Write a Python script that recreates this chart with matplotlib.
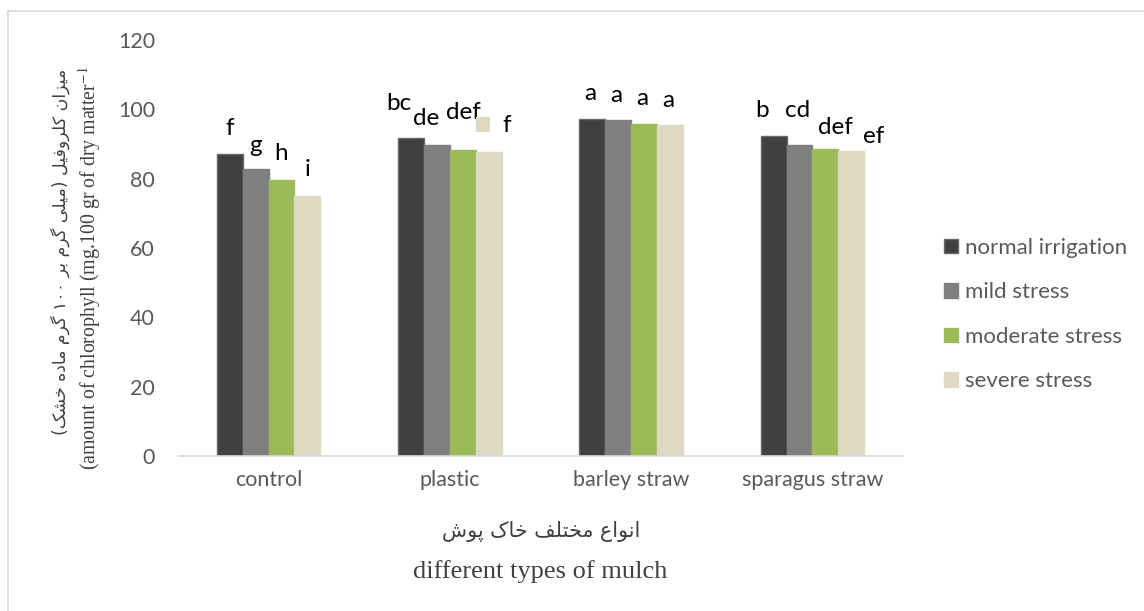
import matplotlib
matplotlib.use("Agg")
import matplotlib.pyplot as plt
from matplotlib.patches import Rectangle
import numpy as np

plt.rcParams["mathtext.fontset"] = "stix"

# ---------------- data ----------------
categories = ["control", "plastic", "barley straw", "sparagus straw"]
series_names = ["normal irrigation", "mild stress", "moderate stress", "severe stress"]
normal_irrigation = [87.0, 91.7, 97.3, 92.4]
mild_stress = [82.8, 89.7, 96.8, 89.8]
moderate_stress = [79.6, 88.3, 95.9, 88.5]
severe_stress = [75.0, 87.7, 95.6, 88.0]
letters_normal = ["f", "bc", "a", "b"]
letters_mild = ["g", "de", "a", "cd"]
letters_moderate = ["h", "def", "a", "def"]
letters_severe = ["i", "f", "a", "ef"]
yticks = [0, 20, 40, 60, 80, 100, 120]

# ---------------- styling ----------------
colors = ["#404040", "#7f7f7f", "#9bbb59", "#ddd9c3"]
edgecolors = ["#6a6a6a", "#7f7f7f", "#9bbb59", "#ddd9c3"]
# label offsets in pixels (dx from bar centre, dy from bar top to baseline)
off_normal = [(0, 19), (-12, 28), (-2, 19), (-12, 19)]
off_mild = [(0, 17), (-11, 20), (-2, 18), (-2, 28)]
off_moderate = [(0, 20), (1, 31), (-2, 19), (10, 15)]
off_severe = [(0, 20), (18, 20), (-2, 18), (23, 8)]

tick_font = "Lato"
tick_color = "#595959"


# ---------- minimal Persian shaping (presentation forms + visual order) ----------
FORMS = {
    'ا': ('\uFE8D', '\uFE8E', None, None),
    'ن': ('\uFEE5', '\uFEE6', '\uFEE7', '\uFEE8'),
    'و': ('\uFEED', '\uFEEE', None, None),
    'ع': ('\uFEC9', '\uFECA', '\uFECB', '\uFECC'),
    'م': ('\uFEE1', '\uFEE2', '\uFEE3', '\uFEE4'),
    'خ': ('\uFEA5', '\uFEA6', '\uFEA7', '\uFEA8'),
    'ت': ('\uFE95', '\uFE96', '\uFE97', '\uFE98'),
    'ل': ('\uFEDD', '\uFEDE', '\uFEDF', '\uFEE0'),
    'ف': ('\uFED1', '\uFED2', '\uFED3', '\uFED4'),
    'ک': ('\uFB8E', '\uFB8F', '\uFB90', '\uFB91'),
    'پ': ('\uFB56', '\uFB57', '\uFB58', '\uFB59'),
    'ش': ('\uFEB5', '\uFEB6', '\uFEB7', '\uFEB8'),
    'ی': ('\uFBFC', '\uFBFD', '\uFBFE', '\uFBFF'),
    'ز': ('\uFEAF', '\uFEB0', None, None),
    'ر': ('\uFEAD', '\uFEAE', None, None),
    'گ': ('\uFB92', '\uFB93', '\uFB94', '\uFB95'),
    'ب': ('\uFE8F', '\uFE90', '\uFE91', '\uFE92'),
    'ه': ('\uFEE9', '\uFEEA', '\uFEEB', '\uFEEC'),
    'د': ('\uFEA9', '\uFEAA', None, None),
}
MIRROR = {'(': ')', ')': '('}


def shape_word(w):
    out = []
    n = len(w)
    for i, c in enumerate(w):
        if c not in FORMS:
            out.append(MIRROR.get(c, c))
            continue
        jp = i > 0 and w[i - 1] in FORMS and FORMS[w[i - 1]][2] is not None
        jn = (i < n - 1 and w[i + 1] in FORMS and FORMS[c][2] is not None)
        f = FORMS[c]
        if jp and jn:
            g = f[3]
        elif jp:
            g = f[1]
        elif jn:
            g = f[2]
        else:
            g = f[0]
        out.append(g)
    return "".join(reversed(out))


def persian(text):
    toks = text.split(" ")
    vis = []
    for t in toks:
        if all(ch in "۰۱۲۳۴۵۶۷۸۹0123456789" for ch in t):
            vis.append(t)
        else:
            vis.append(shape_word(t))
    return " ".join(reversed(vis))


# ---------------- figure ----------------
fig = plt.figure(figsize=(11.44, 6.11), dpi=100)
ax = fig.add_axes([178 / 1144, 1 - 456 / 611, (903 - 178) / 1144, 416 / 611])

x = np.arange(len(categories))
bw = 0.1425
all_series = [normal_irrigation, mild_stress, moderate_stress, severe_stress]
all_letters = [letters_normal, letters_mild, letters_moderate, letters_severe]
all_offsets = [off_normal, off_mild, off_moderate, off_severe]

bar_containers = []
for k, vals in enumerate(all_series):
    pos = x + (k - 1.5) * bw
    bc = ax.bar(pos, vals, width=bw, color=colors[k], edgecolor=edgecolors[k],
                linewidth=1.0, label=series_names[k], zorder=2)
    bar_containers.append(bc)
    for i, (xp, v) in enumerate(zip(pos, vals)):
        dx, dy = all_offsets[k][i]
        ax.annotate(all_letters[k][i], (xp, v), xytext=(dx, dy),
                    textcoords="offset pixels", ha="center", va="baseline",
                    fontsize=17.5, color="black", family=tick_font, zorder=3)

# stray legend-coloured square in the plastic group (present in the reference)
sev_bar = bar_containers[3][1]
ax.add_patch(Rectangle((sev_bar.get_x(), severe_stress[1] + 5.8), 0.08, 4.3,
                       facecolor=colors[3], edgecolor="none", zorder=3))

ax.set_xlim(-0.5, len(categories) - 0.5)
ax.set_ylim(0, 120)
ax.set_yticks(yticks)
ax.set_yticklabels([str(t) for t in yticks])
ax.set_xticks(x)
ax.set_xticklabels(categories)
for s in ["top", "right", "left"]:
    ax.spines[s].set_visible(False)
ax.spines["bottom"].set_color("#d9d9d9")
ax.spines["bottom"].set_linewidth(1.2)
ax.tick_params(axis="both", length=0, labelsize=15.5, labelcolor=tick_color)
ax.tick_params(axis="y", pad=16.5)
ax.tick_params(axis="x", pad=10)
for lab in ax.get_xticklabels() + ax.get_yticklabels():
    lab.set_family(tick_font)

# legend
leg = fig.legend(handles=bar_containers, labels=series_names, loc="center left",
                 bbox_to_anchor=(944 / 1144, 1 - 314.5 / 611), frameon=False,
                 prop={"family": tick_font, "size": 16}, handlelength=0.65,
                 handleheight=0.65, handletextpad=0.3, labelspacing=1.1,
                 borderpad=0, borderaxespad=0)
for t in leg.get_texts():
    t.set_color(tick_color)

# axis titles
fa_color = "#404040"
fig.text(60 / 1144, 1 - 252 / 611,
         persian("میزان کلروفیل (میلی گرم بر ۱۰۰ گرم ماده خشک)"),
         rotation=90, ha="center", va="center", fontsize=12.5,
         family=["DejaVu Sans"], color=fa_color)
fig.text(90 / 1144, 1 - 268 / 611,
         "(amount of chlorophyll (mg.100 gr of dry matter$^{-1}$",
         rotation=90, ha="center", va="center", fontsize=14.3,
         family="Liberation Serif", color=fa_color)
fig.text(541 / 1144, 1 - 532 / 611, persian("انواع مختلف خاک پوش"),
         ha="center", va="center", fontsize=14.9, family=["DejaVu Sans"],
         color=fa_color)
fig.text(540 / 1144, 1 - 572 / 611, "different types of mulch",
         ha="center", va="center", fontsize=19, family="Liberation Serif",
         color=fa_color)

# chart-area border (top and left visible in the reference)
fig.add_artist(plt.Line2D([8 / 1144, 1], [1 - 11 / 611, 1 - 11 / 611],
                          transform=fig.transFigure, color="#d9d9d9", lw=1.2))
fig.add_artist(plt.Line2D([8 / 1144, 8 / 1144], [0, 1 - 11 / 611],
                          transform=fig.transFigure, color="#d9d9d9", lw=1.2))

fig.savefig("out.png", dpi=100)
